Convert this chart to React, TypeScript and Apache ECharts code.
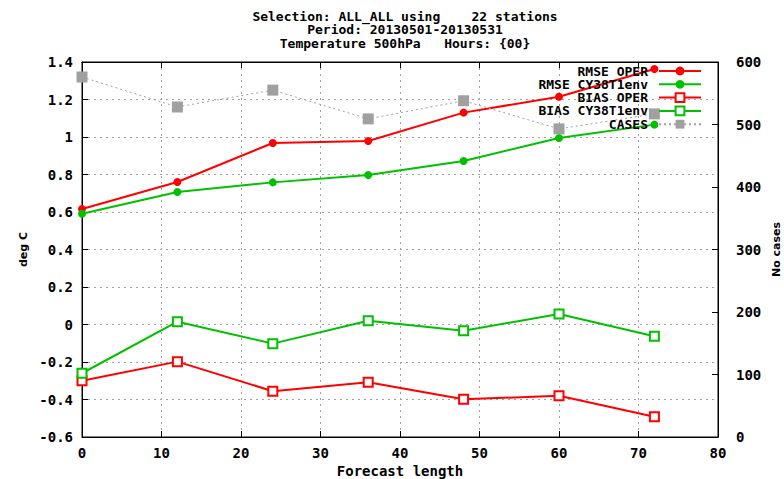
import React, { useEffect, useRef } from "react";
import * as echarts from "echarts";

const leadTimes = [0, 12, 24, 36, 48, 60, 72];
const rmseOper = [0.616, 0.76, 0.968, 0.979, 1.13, 1.215, 1.363];
const rmseCy = [0.591, 0.707, 0.758, 0.797, 0.872, 0.995, 1.066];
const biasOper = [-0.3, -0.198, -0.356, -0.308, -0.399, -0.38, -0.492];
const biasCy = [-0.26, 0.015, -0.102, 0.02, -0.033, 0.056, -0.063];
const cases = [576, 528, 555, 509, 538, 493, 517];

const seriesNames = ["RMSE OPER", "RMSE CY38T1env", "BIAS OPER", "BIAS CY38T1env", "CASES"];
const titleLines = [
  "Selection: ALL_ALL using    22 stations",
  "Period: 20130501-20130531",
  "Temperature 500hPa   Hours: {00}",
];

const MONO = "'DejaVu Sans Mono', monospace";
const RED = "#ff0000";
const GREEN = "#00c000";
const GRAY = "#a0a0a0";

const pairs = (ys: number[]) => leadTimes.map((x, i) => [x, ys[i]]);

export default function App() {
  const ref = useRef<HTMLDivElement>(null);
  useEffect(() => {
    if (!ref.current) return;
    const chart = echarts.init(ref.current, null, { renderer: "svg" });
    const labelStyle = { fontFamily: MONO, fontWeight: "bold" as const, fontSize: 14, color: "#000" };
    const smallStyle = { fontFamily: MONO, fontWeight: "bold" as const, fontSize: 13, color: "#000" };
    const nameStyle = { fontFamily: "'DejaVu Sans', sans-serif", fontWeight: "bold" as const, fontSize: 11, color: "#000" };
    const option: any = {
      animation: false,
      backgroundColor: "#fff",
      title: {
        text: titleLines.join("\n"),
        left: 400,
        top: 4.5,
        textAlign: "center",
        textStyle: { ...smallStyle, lineHeight: 13.5 },
      },
      legend: seriesNames.map((n, i) => ({
        data: [n],
        right: 82,
        top: 71 + 13.3 * i - 6.5,
        orient: "horizontal",
        align: "right",
        itemWidth: 42,
        itemHeight: 11,
        selectedMode: false,
        padding: 0,
        textStyle: { ...smallStyle, lineHeight: 13, padding: [0, 6, 0, 0] },
      })),
      grid: {
        left: 82,
        right: 66,
        top: 62,
        bottom: 42,
        show: true,
        borderColor: "#000",
        borderWidth: 1,
        backgroundColor: "transparent",
        outerBoundsMode: "none",
        containLabel: false,
      },
      xAxis: [
        {
          type: "value",
          min: 0,
          max: 80,
          interval: 10,
          name: "Forecast length",
          nameLocation: "middle",
          nameGap: 27,
          nameMoveOverlap: false,
          nameTextStyle: labelStyle,
          axisLine: { show: true, onZero: false, lineStyle: { color: "#000" } },
          axisTick: { show: true, inside: true, length: 6, lineStyle: { color: "#000" } },
          axisLabel: { ...labelStyle, margin: 9 },
          splitLine: { show: true, lineStyle: { color: GRAY, type: [2, 4], width: 1 } },
        },
        {
          type: "value",
          position: "top",
          min: 0,
          max: 80,
          interval: 10,
          axisLine: { show: true, onZero: false, lineStyle: { color: "#000" } },
          axisTick: { show: true, inside: true, length: 6, lineStyle: { color: "#000" } },
          axisLabel: { show: false },
          splitLine: { show: false },
        },
      ],
      yAxis: [
        {
          type: "value",
          min: -0.6,
          max: 1.4,
          interval: 0.2,
          name: "deg C",
          nameLocation: "middle",
          nameGap: 53,
          nameMoveOverlap: false,
          nameTextStyle: nameStyle,
          axisLine: { show: true, onZero: false, lineStyle: { color: "#000" } },
          axisTick: { show: true, inside: true, length: 6, lineStyle: { color: "#000" } },
          axisLabel: {
            ...labelStyle,
            margin: 9,
            formatter: (v: number) => String(Math.round(v * 10) / 10),
          },
          splitLine: { show: true, lineStyle: { color: GRAY, type: [2, 4], width: 1 } },
        },
        {
          type: "value",
          position: "right",
          min: 0,
          max: 600,
          interval: 100,
          name: "No cases",
          nameLocation: "middle",
          nameGap: 53,
          nameRotate: 90,
          nameMoveOverlap: false,
          nameTextStyle: nameStyle,
          axisLine: { show: true, onZero: false, lineStyle: { color: "#000" } },
          axisTick: { show: true, inside: true, length: 6, lineStyle: { color: "#000" } },
          axisLabel: { ...labelStyle, margin: 18 },
          splitLine: { show: false },
        },
      ],
      series: [
        {
          name: seriesNames[0],
          type: "line",
          data: pairs(rmseOper),
          symbol: "circle",
          symbolSize: 8,
          itemStyle: { color: RED },
          lineStyle: { color: RED, width: 2 },
        },
        {
          name: seriesNames[1],
          type: "line",
          data: pairs(rmseCy),
          symbol: "circle",
          symbolSize: 8,
          itemStyle: { color: GREEN },
          lineStyle: { color: GREEN, width: 2 },
        },
        {
          name: seriesNames[2],
          type: "line",
          data: pairs(biasOper),
          symbol: "emptyRect",
          symbolSize: 9,
          itemStyle: { color: RED, borderColor: RED, borderWidth: 2 },
          lineStyle: { color: RED, width: 2 },
        },
        {
          name: seriesNames[3],
          type: "line",
          data: pairs(biasCy),
          symbol: "emptyRect",
          symbolSize: 9,
          itemStyle: { color: GREEN, borderColor: GREEN, borderWidth: 2 },
          lineStyle: { color: GREEN, width: 2 },
        },
        {
          name: seriesNames[4],
          type: "line",
          yAxisIndex: 1,
          data: pairs(cases),
          symbol: "rect",
          symbolSize: 11,
          itemStyle: { color: GRAY },
          lineStyle: { color: GRAY, width: 1, type: [2, 3] },
        },
      ],
    };
    chart.setOption(option);
    return () => chart.dispose();
  }, []);
  return <div ref={ref} style={{ width: 784, height: 479, position: "absolute", left: 0, top: 0 }} />;
}
